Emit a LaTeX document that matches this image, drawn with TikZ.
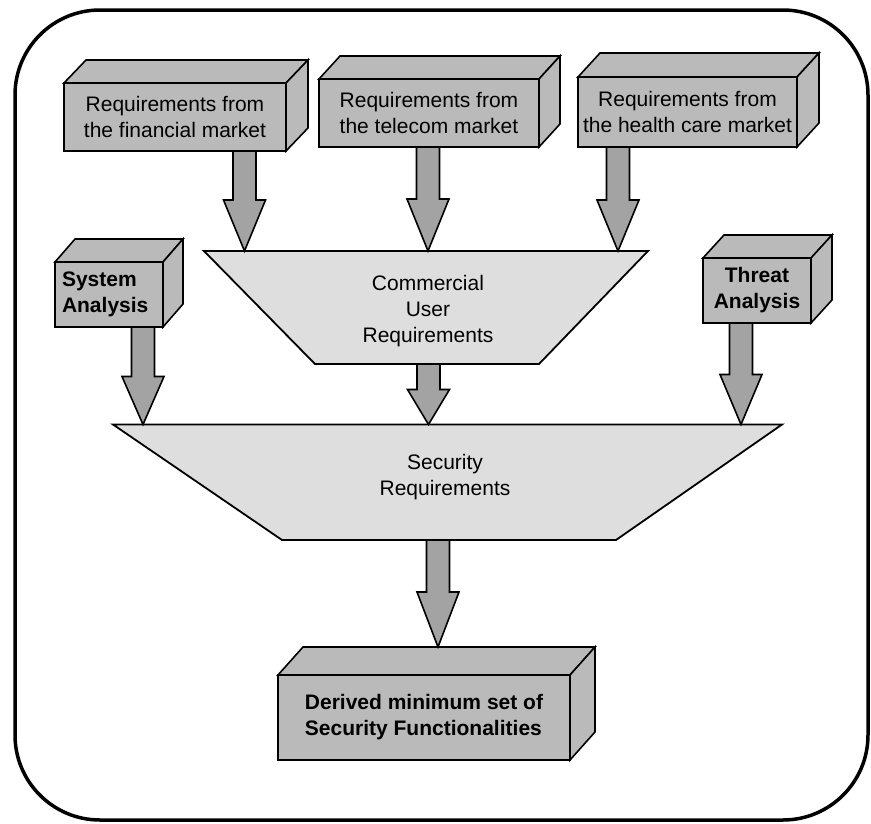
\documentclass[tikz,border=0pt]{standalone}
\usepackage{fontspec}
\setmainfont{Liberation Sans}
\usetikzlibrary{calc}
\definecolor{boxgray}{gray}{0.73}
\definecolor{trapgray}{gray}{0.87}
\definecolor{arrowgray}{gray}{0.64}
\tikzset{
  face/.style={draw=black, line width=1.6pt, fill=boxgray, line join=miter},
  boxfront/.style={face, rectangle, inner sep=0pt, outer sep=0pt, align=center},
  trap/.style={draw=black, line width=1.8pt, fill=trapgray, line join=miter},
  arrowface/.style={draw=black, line width=1.6pt, fill=arrowgray, line join=miter},
  frame/.style={draw=black, line width=3.5pt, rounded corners=85pt},
  txt/.style={font=\fontsize{21pt}{26pt}\selectfont},
  btxt/.style={font=\fontsize{21pt}{26pt}\selectfont\bfseries},
}
\newcommand{\mkcube}[3]{%
  \draw[face] (#1.north west) -- ++(#2,-#3) -- ($(#1.north east)+(#2,-#3)$) -- (#1.north east) -- cycle;
  \draw[face] (#1.north east) -- ++(#2,-#3) -- ($(#1.south east)+(#2,-#3)$) -- (#1.south east) -- cycle;
}
\newcommand{\blockarrow}[3]{%
  \filldraw[arrowface] ($(#1)+(-11.5,0)$) -- ($(#2)+(-11.5,-#3)$) -- ($(#2)+(-21,-#3)$) -- (#2) -- ($(#2)+(21,-#3)$) -- ($(#2)+(11.5,-#3)$) -- ($(#1)+(11.5,0)$) -- cycle;
}
\begin{document}
\begin{tikzpicture}[x=1pt, y=-1pt]
\useasboundingbox (0,0) rectangle (871,823);
\draw[frame] (15,10) rectangle (868,820);

% top boxes
\node[boxfront, txt, minimum width=222pt, minimum height=68pt] (b1) at (175,117) {Requirements from\\the financial market};
\mkcube{b1}{22}{23}
\node[boxfront, txt, minimum width=220pt, minimum height=68pt] (b2) at (429,113) {Requirements from\\the telecom market};
\mkcube{b2}{21}{23}
\node[boxfront, txt, minimum width=219pt, minimum height=70pt] (b3) at (687.5,112) {Requirements from\\the health care market};
\mkcube{b3}{22}{24}

% side boxes
\node[boxfront, btxt, align=left, text width=94pt, minimum width=108pt, minimum height=65pt] (sa) at (109,294.5) {System\\Analysis};
\mkcube{sa}{20}{23}
\node[boxfront, btxt, minimum width=108pt, minimum height=65pt] (ta) at (757,290.5) {Threat\\Analysis};
\mkcube{ta}{21}{23}

% commercial trapezoid
\coordinate (ctl) at (204,251);
\coordinate (ctr) at (648,251);
\coordinate (cbr) at (539,364);
\coordinate (cbl) at (315,364);
\draw[trap] (ctl) -- (ctr) -- (cbr) -- (cbl) -- cycle;
\node[txt, align=center] (cu) at (428,311) {Commercial\\User\\Requirements};

% security trapezoid
\coordinate (stl) at (113,424.5);
\coordinate (str) at (782,424.5);
\coordinate (sbr) at (616,540);
\coordinate (sbl) at (282,540);
\draw[trap] (stl) -- (str) -- (sbr) -- (sbl) -- cycle;
\node[txt, align=center] (sr) at (445,477) {Security\\Requirements};

% bottom box
\node[boxfront, btxt, align=left, minimum width=292pt, minimum height=85pt] (dm) at (424,717.5) {Derived minimum set of\\Security Functionalities};
\mkcube{dm}{25}{28}

% arrow tips
\coordinate (t1) at (244.5,251);
\coordinate (t2) at (428,251);
\coordinate (t3) at (618,251);
\coordinate (t4) at (143,424.5);
\coordinate (t5) at (428.5,424.5);
\coordinate (t6) at (741,424.5);
\coordinate (t7) at (438,647);

\blockarrow{b1.south -| t1}{t1}{51}
\blockarrow{b2.south -| t2}{t2}{52}
\blockarrow{b3.south -| t3}{t3}{51}
\blockarrow{sa.south -| t4}{t4}{48}
\blockarrow{cbl -| t5}{t5}{35}
\blockarrow{ta.south -| t6}{t6}{50}
\blockarrow{sbl -| t7}{t7}{55}
\end{tikzpicture}
\end{document}
